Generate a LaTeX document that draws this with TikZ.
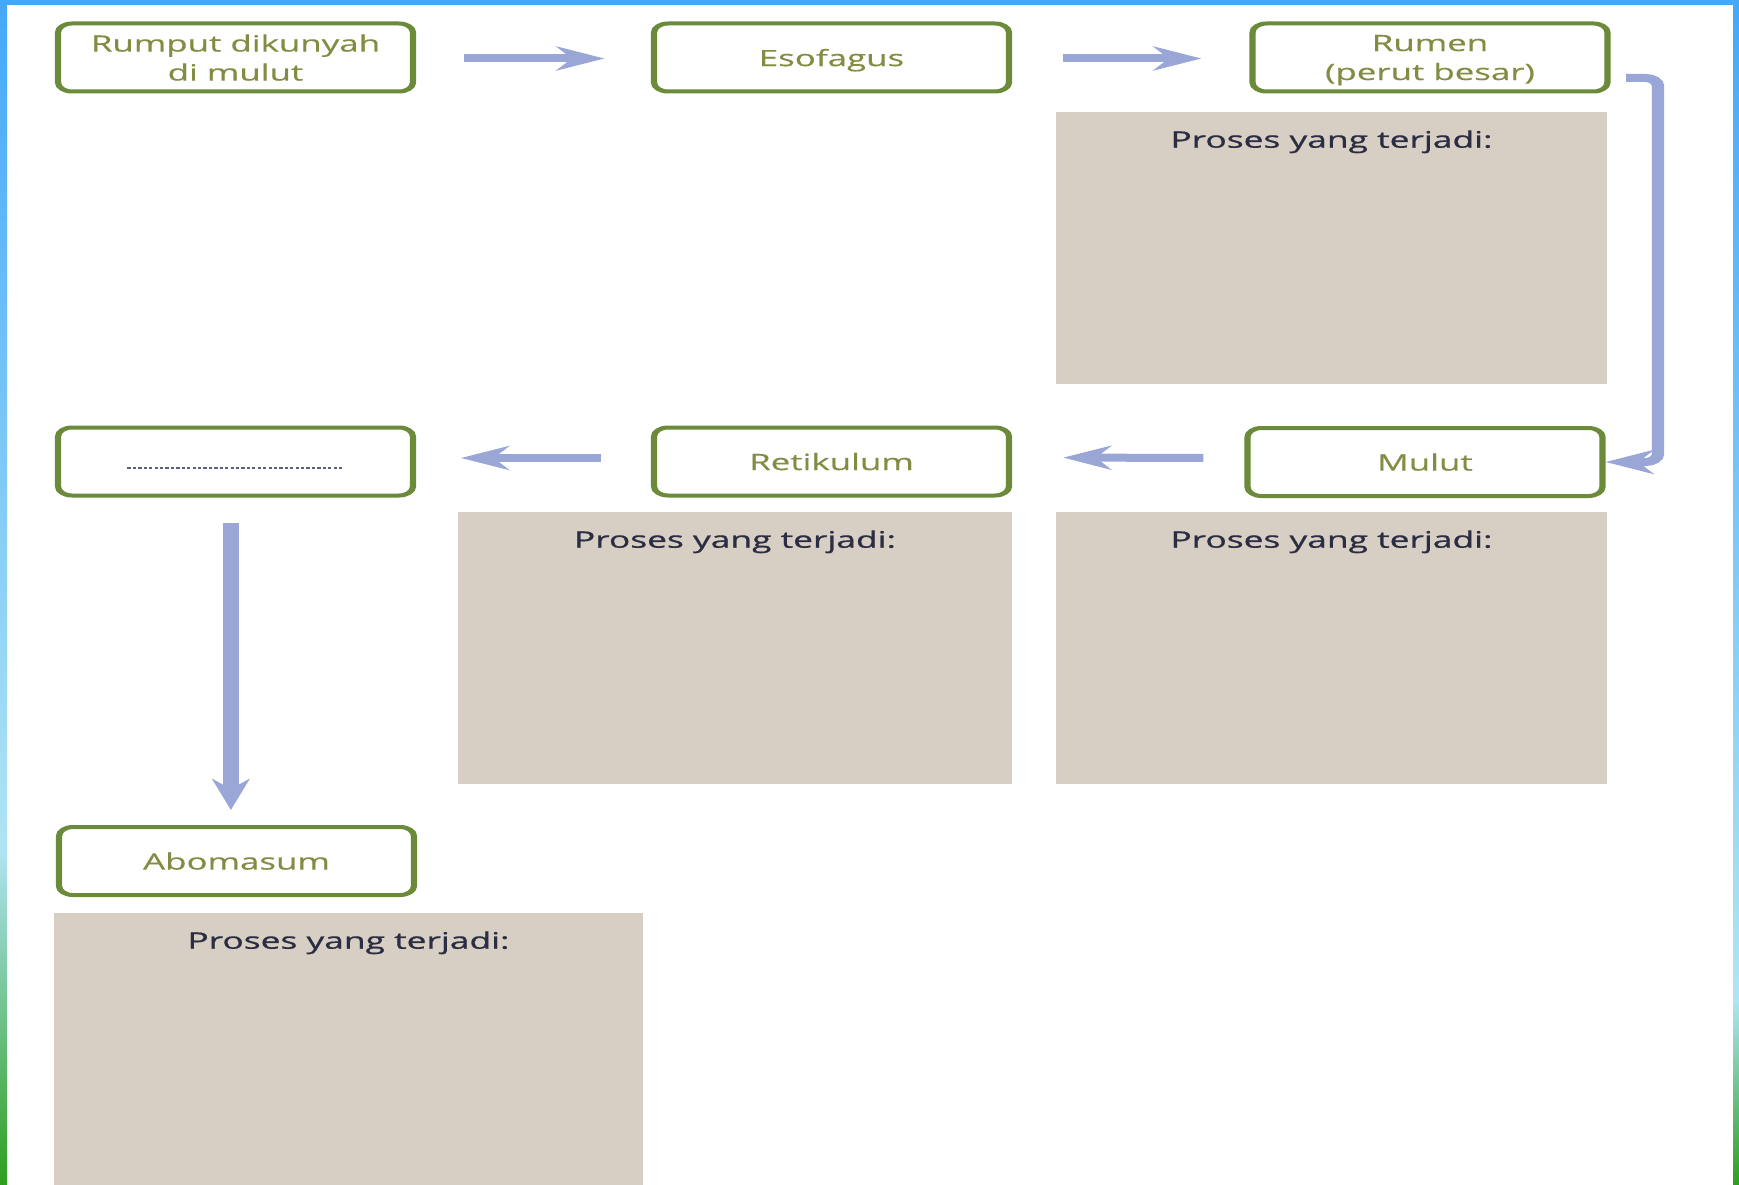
\documentclass[tikz,border=0pt]{standalone}
\usepackage{fontspec}
\setmainfont{Open Sans}
\newfontfamily\labfont{Open Sans}[FakeBold=0.3]
\newfontfamily\profont{Open Sans}[FakeBold=0.7]
\usetikzlibrary{arrows.meta}
\definecolor{boxgreen}{HTML}{6B8A3A}
\definecolor{labgreen}{HTML}{838C42}
\definecolor{graybg}{HTML}{D8CFC4}
\definecolor{protext}{HTML}{2B2D42}
\definecolor{arrowblue}{HTML}{99A6D6}
\definecolor{frameblue}{HTML}{44A8F8}
\definecolor{framelight}{HTML}{B0E4F4}
\definecolor{framegreen}{HTML}{2E9E1E}
\definecolor{dotcol}{HTML}{5A5F85}
\tikzset{
  lbox/.style={draw=boxgreen, line width=4pt, rounded corners=9pt, fill=white,
    minimum width=229pt, minimum height=68pt, inner sep=0pt, align=center,
    text depth=0pt, text=labgreen, font=\labfont\fontsize{22.5pt}{29pt}\selectfont},
  gbox/.style={fill=graybg, inner sep=0pt},
  ptext/.style={text=protext, inner sep=0pt, font=\profont\fontsize{22.8pt}{28pt}\selectfont},
  flow/.style={draw=arrowblue, line width=8pt, -{Stealth[length=31pt,width=24pt,inset=10pt]}},
  downflow/.style={flow, line width=10pt},
  blankline/.style={draw=dotcol, line width=1.7pt, dash pattern=on 2.1pt off 1.4pt},
}
\begin{document}
\begin{tikzpicture}[x=1pt,y=-1pt]
\useasboundingbox (0,0) rectangle (1739,1185);
% background and frame
\fill[white] (0,0) rectangle (1739,1185);
\fill[frameblue] (0,0) rectangle (1739,5);
\shade[top color=frameblue, bottom color=framelight] (0,0) rectangle (7,850);
\shade[top color=framelight, bottom color=framegreen] (0,850) rectangle (7,1185);
\shade[top color=frameblue, bottom color=framelight] (1733,0) rectangle (1739,1000);
\shade[top color=framelight, bottom color=framegreen] (1733,1000) rectangle (1739,1185);
\begin{scope}[transform canvas={xscale=1.55}, x=0.645161pt]
  % grey process panels
  \node[gbox, minimum width=355.5pt, minimum height=272pt] (g1) at (1331.5,248) {};
  \node[gbox, minimum width=357.4pt, minimum height=272pt] (g2) at (735,648) {};
  \node[gbox, minimum width=355.5pt, minimum height=272pt] (g3) at (1331.5,648) {};
  \node[gbox, minimum width=380pt, minimum height=276pt] (g4) at (348.5,1051) {};
  \node[ptext] (t1) at ([yshift=-30pt]g1.north) {Proses yang terjadi:};
  \node[ptext] (t2) at ([yshift=-30pt]g2.north) {Proses yang terjadi:};
  \node[ptext] (t3) at ([yshift=-30pt]g3.north) {Proses yang terjadi:};
  \node[ptext] (t4) at ([yshift=-30pt]g4.north) {Proses yang terjadi:};
  % stage boxes
  \node[lbox] (rumput) at (235.5,57.5) {Rumput dikunyah\\di mulut};
  \node[lbox] (esof) at (831.5,57.5) {Esofagus};
  \node[lbox, text depth=-10pt] (rumen) at (1430,57.5) {Rumen\\(perut besar)};
  \node[lbox] (dots) at (235.5,461.5) {};
  \node[lbox] (retik) at (831.5,461.5) {Retikulum};
  \node[lbox] (mulut) at (1425,462) {Mulut};
  \node[lbox] (aboma) at (236.5,861) {Abomasum};
  \draw[blankline] ([xshift=-69.7pt,yshift=-6.5pt]dots.center) -- ([xshift=69.7pt,yshift=-6.5pt]dots.center);
  % connectors
  \draw[flow, shorten <=31pt, shorten >=30pt] ([yshift=-1pt]rumput.east) -- ([yshift=-1pt]esof.west);
  \draw[flow, shorten <=33pt, shorten >=31pt] ([yshift=-1pt]esof.east) -- ([yshift=-1pt]rumen.west);
  \coordinate (rside) at (1658,0);
  \draw[flow, rounded corners=8pt] ([xshift=10pt,yshift=-20.5pt]rumen.east) -| (rside |- mulut.east) -- (mulut.east);
  \draw[flow, shorten <=26.5pt, shorten >=33pt] ([yshift=4pt]mulut.west) -- ([yshift=4pt]retik.east);
  \draw[flow, shorten <=32pt, shorten >=29pt] ([yshift=3.5pt]retik.west) -- ([yshift=3.5pt]dots.east);
  \draw[downflow, shorten <=25pt, shorten >=15pt] ([xshift=-3pt]dots.south) -- ([xshift=-3pt]dots.south |- aboma.north);
\end{scope}
\end{tikzpicture}
\end{document}
